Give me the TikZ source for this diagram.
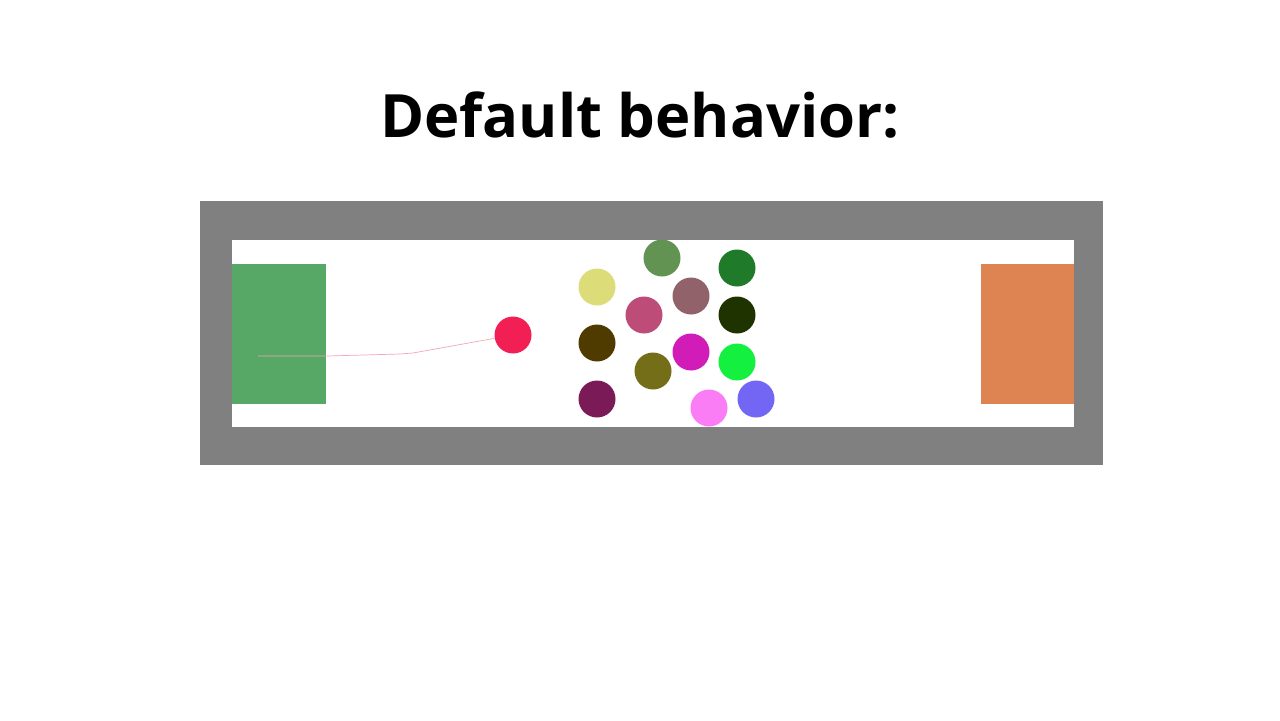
\documentclass[tikz,border=0pt]{standalone}
\usepackage{fontspec}
\setmainfont{Open Sans}
\usepackage{tikz}
\usetikzlibrary{calc}
\definecolor{wallgray}{HTML}{808080}
\definecolor{goalgreen}{HTML}{57A866}
\definecolor{goalorange}{HTML}{DE8352}
\definecolor{agentred}{HTML}{F21F54}
\definecolor{trailpink}{HTML}{F2A6B8}
\tikzset{
	wallstyle/.style={fill=wallgray},
	goalstyle/.style={rectangle,inner sep=0pt},
	ballstyle/.style={circle,inner sep=0pt,minimum size=0.74cm},
	titlestyle/.style={font=\fontsize{34}{41}\selectfont\bfseries}
}

\begin{document}
\begin{tikzpicture}[x=0.02cm,y=-0.02cm]
	\useasboundingbox (0,0) rectangle (1280,720);
	\node[titlestyle] (title) at (640,115) {Default behavior:};
	% arena
	\fill[wallstyle] (200,201) rectangle (1103,465);
	\fill[white] (232,240) rectangle (1074,427);
	\node[goalstyle,fill=goalgreen,minimum width=1.88cm,minimum height=2.8cm] (start) at (279,334) {};
	\node[goalstyle,fill=goalorange,minimum width=1.86cm,minimum height=2.8cm] (goal) at (1027.5,334) {};
	% agent and its trail
	\node[ballstyle,fill=agentred] (agent) at (513,335) {};
	\coordinate (trailstart) at (258,356);
	\draw[trailpink,line width=0.4pt] (trailstart) -- (327,356) -- (400,354) -- (413,353) -- (agent);
	% obstacles
	\node[ballstyle,fill={rgb,255:red,220;green,220;blue,120}] (b1) at (597,287) {};
	\node[ballstyle,fill={rgb,255:red,99;green,147;blue,83}] (b2) at (662,258) {};
	\node[ballstyle,fill={rgb,255:red,31;green,122;blue,42}] (b3) at (737,268) {};
	\node[ballstyle,fill={rgb,255:red,189;green,77;blue,120}] (b4) at (644,315) {};
	\node[ballstyle,fill={rgb,255:red,145;green,98;blue,105}] (b5) at (691,296) {};
	\node[ballstyle,fill={rgb,255:red,31;green,51;blue,0}] (b6) at (737,315) {};
	\node[ballstyle,fill={rgb,255:red,79;green,59;blue,0}] (b7) at (597,343) {};
	\node[ballstyle,fill={rgb,255:red,209;green,28;blue,184}] (b8) at (691,352) {};
	\node[ballstyle,fill={rgb,255:red,20;green,240;blue,64}] (b9) at (737,362) {};
	\node[ballstyle,fill={rgb,255:red,115;green,110;blue,23}] (b10) at (653,371) {};
	\node[ballstyle,fill={rgb,255:red,122;green,26;blue,87}] (b11) at (597,399) {};
	\node[ballstyle,fill={rgb,255:red,250;green,125;blue,245}] (b12) at (709,408) {};
	\node[ballstyle,fill={rgb,255:red,115;green,102;blue,245}] (b13) at (756,399) {};
\end{tikzpicture}
\end{document}
